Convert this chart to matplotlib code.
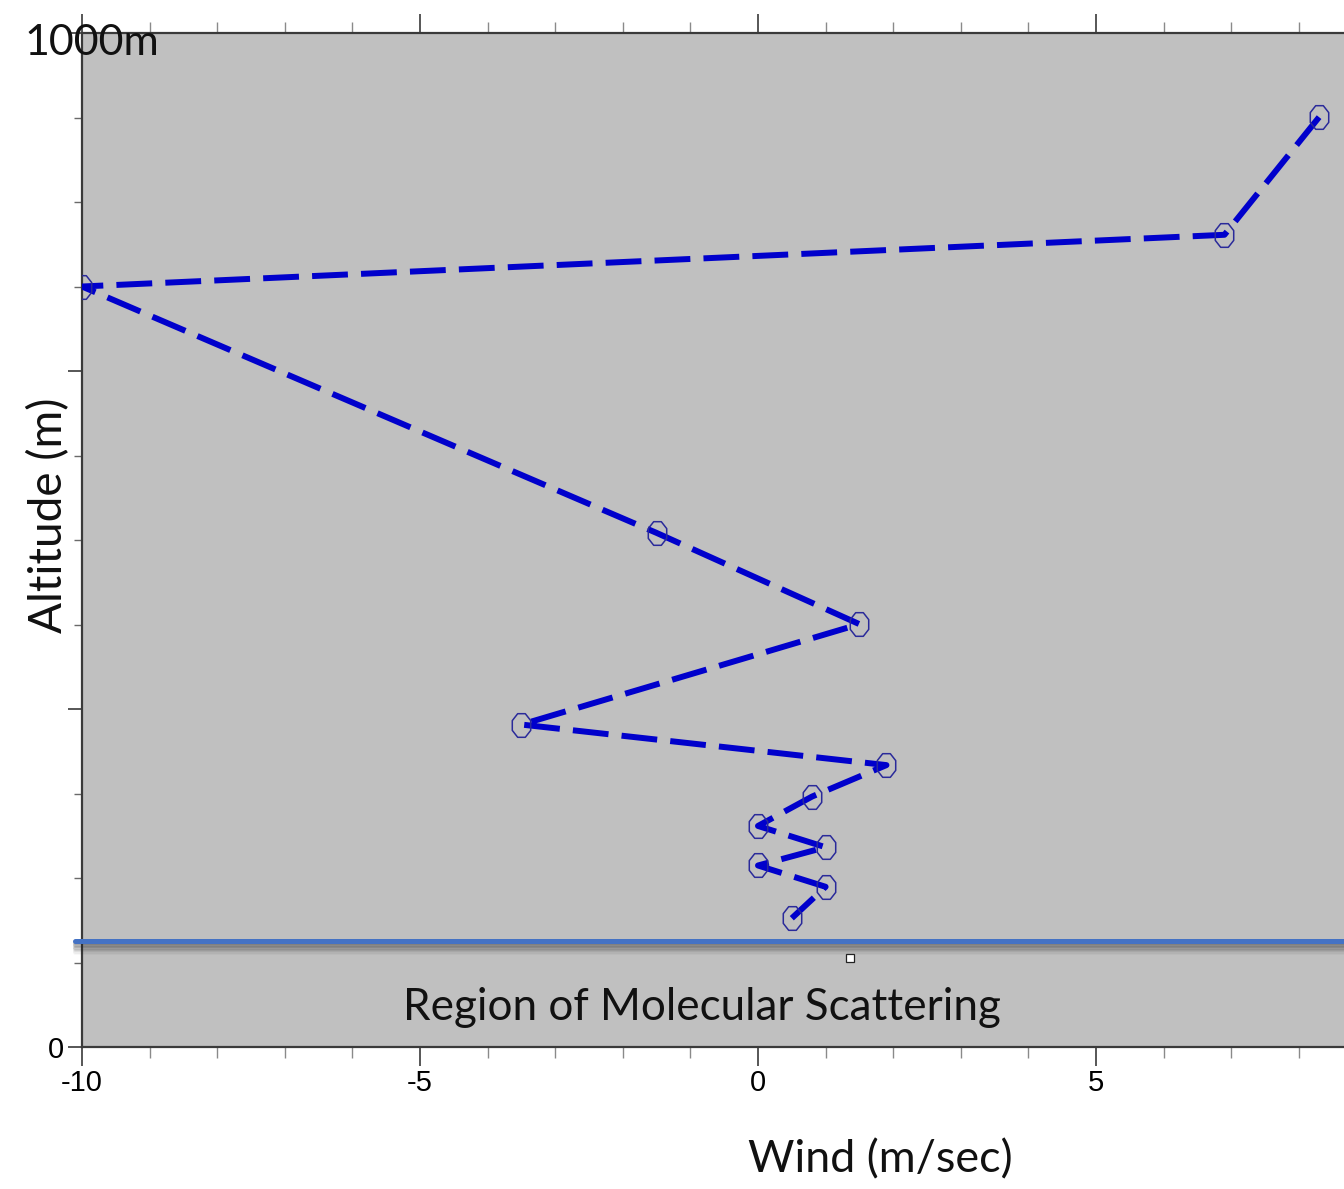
import numpy as np
import matplotlib
matplotlib.use("Agg")
import matplotlib.pyplot as plt
import matplotlib.patheffects as pe
from matplotlib.path import Path
from matplotlib.ticker import FixedLocator, MultipleLocator, NullFormatter, FixedFormatter

# Wind profile (m/sec) versus altitude (m)
wind = [8.3, 6.9, -10.0, -1.5, 1.5, -3.5, 1.9, 0.8, 0.0, 1.0, 0.0, 1.0, 0.5]
altitude = [917, 801, 750, 507, 417, 318, 278, 247, 218, 197, 179, 158, 127]

scatter_ceiling = 104.5          # top of the molecular scattering region (m)
x_major = [-10, -5, 0, 5]
x_major_labels = ["-10", "-5", "0", "5"]

W, H = 1344, 1189
fig = plt.figure(figsize=(W / 100, H / 100), dpi=100)
fig.patch.set_facecolor("white")

left_px, top_px, bottom_px = 82, 33, 1047
ax = fig.add_axes([left_px / W, (H - bottom_px) / H, 1 - left_px / W, (bottom_px - top_px) / H])
ax.set_facecolor("#c0c0c0")
ax.set_xlim(-10, -10 + (W - left_px) / 67.6)
ax.set_ylim(0, 1000)

# tall octagonal ring used as the data marker
t = np.linspace(0, 2 * np.pi, 9)[:-1] + np.pi / 8
ring = Path(np.column_stack([0.78 * np.cos(t), np.sin(t)]).tolist() + [[0, 0]],
            [Path.MOVETO] + [Path.LINETO] * 7 + [Path.CLOSEPOLY])

# profile line with open markers
ax.plot(wind, altitude, color="#0000cc", lw=4.3, dashes=(6.0, 2.2),
        solid_capstyle="butt", dash_capstyle="butt", zorder=3)
ax.plot(wind, altitude, ls="none", marker=ring, ms=17, mfc="none",
        mec="#2a2a9a", mew=1.1, zorder=4)

# boundary of the molecular scattering region, with a soft drop shadow
shadow = [pe.SimpleLineShadow(offset=(0, -k), shadow_color="#202020", alpha=a)
          for k, a in ((1, 0.18), (2, 0.15), (3, 0.13), (4, 0.11), (5, 0.09),
                       (6, 0.07), (7, 0.05), (8, 0.03))]
ax.plot([-10.1, 9.5], [scatter_ceiling, scatter_ceiling], color="#4472c4", lw=3.6,
        clip_on=False, solid_capstyle="round", zorder=5,
        path_effects=shadow + [pe.Normal()])
ax.plot([1.36], [87.8], ls="none", marker="s", ms=6, mfc="white", mec="#222222",
        mew=0.9, zorder=5)

# spines
for s in ("left", "bottom", "top"):
    ax.spines[s].set_color("#3a3a3a")
    ax.spines[s].set_linewidth(1.6)
ax.spines["right"].set_visible(False)

# ticks
ax.xaxis.set_major_locator(FixedLocator(x_major))
ax.xaxis.set_major_formatter(FixedFormatter(x_major_labels))
ax.xaxis.set_minor_locator(MultipleLocator(1))
ax.yaxis.set_major_locator(FixedLocator([0, 1000 / 3, 2000 / 3, 1000]))
ax.yaxis.set_major_formatter(FixedFormatter(["0", "", "", ""]))
ax.yaxis.set_minor_locator(MultipleLocator(1000 / 12))
ax.yaxis.set_minor_formatter(NullFormatter())

tick_font = ["Liberation Sans Narrow", "Liberation Sans", "DejaVu Sans"]
ax.tick_params(axis="x", which="major", direction="out", top=True, bottom=True,
               length=14, width=1.2, color="#3a3a3a", labelsize=21, pad=2)
ax.tick_params(axis="x", which="minor", direction="out", top=True, bottom=True,
               length=8, width=1.0, color="#8a8a8a")
ax.tick_params(axis="y", which="major", direction="out", right=False,
               length=10, width=1.2, color="#3a3a3a", labelsize=21, pad=3)
ax.tick_params(axis="y", which="minor", direction="out", right=False,
               length=6, width=1.0, color="#6a6a6a")
for lab in ax.get_xticklabels() + ax.get_yticklabels():
    lab.set_family(tick_font)

big_font = ["Lato", "DejaVu Sans"]
fig.text(702 / W, 1 - 1020 / H, "Region of Molecular Scattering", ha="center",
         va="baseline", fontsize=31.7, family=big_font, color="#111111")
fig.text(880 / W, 1 - 1172 / H, "Wind (m/sec)", ha="center", va="baseline",
         fontsize=32.3, family=big_font, color="#111111")
fig.text(62 / W, 1 - 515 / H, "Altitude (m)", ha="center", va="baseline",
         rotation=90, rotation_mode="anchor", fontsize=33, family=big_font,
         color="#111111")
fig.text(24 / W, 1 - 55 / H, "1000m", ha="left", va="baseline", fontsize=31,
         family=big_font, color="#111111")

fig.savefig("out.png", dpi=100)
